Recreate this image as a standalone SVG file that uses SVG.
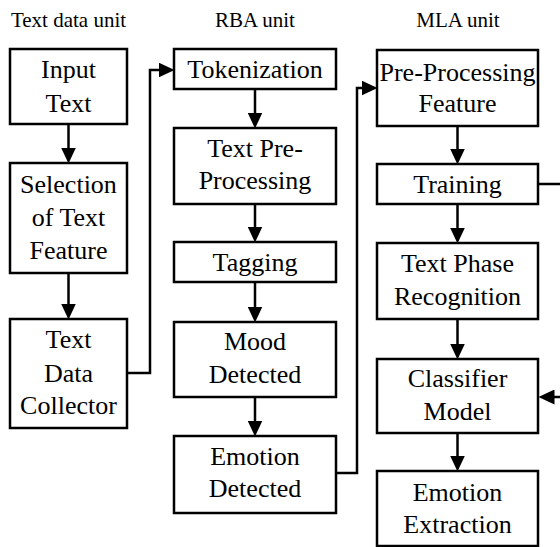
<svg xmlns="http://www.w3.org/2000/svg" width="560" height="547" viewBox="0 0 560 547">
<style>
.box{fill:#fff;stroke:#000;stroke-width:2.5}
.ttl{font-family:'Liberation Serif','Times New Roman',serif;font-size:21px;fill:#000;text-anchor:middle}
.lbl{font-family:'Liberation Serif','Times New Roman',serif;font-size:26px;fill:#000;text-anchor:middle}
.c{fill:none;stroke:#000;stroke-width:2.5;stroke-linejoin:miter}
</style>
<defs>
<marker id="ah" markerUnits="userSpaceOnUse" markerWidth="16" markerHeight="15" viewBox="0 0 16 15" refX="0.5" refY="7.5" orient="auto">
<path d="M0,0 L16,7.5 L0,15 z" fill="#000"/>
</marker>
</defs>
<rect width="560" height="547" fill="#fff"/>
<g id="input-text">
<rect class="box" x="10" y="49" width="117" height="75"/>
<text class="lbl" x="68.5" y="78">Input</text>
<text class="lbl" x="68.5" y="112">Text</text>
</g>
<g id="selection">
<rect class="box" x="10" y="163" width="117" height="110"/>
<text class="lbl" x="68.5" y="193">Selection</text>
<text class="lbl" x="68.5" y="226">of Text</text>
<text class="lbl" x="68.5" y="259">Feature</text>
</g>
<g id="collector">
<rect class="box" x="10" y="319" width="117" height="109"/>
<text class="lbl" x="68.5" y="348">Text</text>
<text class="lbl" x="68.5" y="382">Data</text>
<text class="lbl" x="68.5" y="414">Collector</text>
</g>
<g id="tokenization">
<rect class="box" x="174" y="49" width="162" height="40"/>
<text class="lbl" x="255" y="78">Tokenization</text>
</g>
<g id="text-preprocessing">
<rect class="box" x="174" y="128" width="162" height="76"/>
<text class="lbl" x="255" y="157">Text Pre-</text>
<text class="lbl" x="255" y="189">Processing</text>
</g>
<g id="tagging">
<rect class="box" x="174" y="242" width="162" height="40"/>
<text class="lbl" x="255" y="271">Tagging</text>
</g>
<g id="mood">
<rect class="box" x="174" y="322" width="162" height="75"/>
<text class="lbl" x="255" y="350">Mood</text>
<text class="lbl" x="255" y="383">Detected</text>
</g>
<g id="emotion-detected">
<rect class="box" x="174" y="436" width="162" height="77"/>
<text class="lbl" x="255" y="465">Emotion</text>
<text class="lbl" x="255" y="497">Detected</text>
</g>
<g id="preprocessing-feature">
<rect class="box" x="377" y="50" width="161" height="76"/>
<text class="lbl" x="457.5" y="81">Pre-Processing</text>
<text class="lbl" x="457.5" y="112">Feature</text>
</g>
<g id="training">
<rect class="box" x="377" y="164" width="161" height="40"/>
<text class="lbl" x="457.5" y="193">Training</text>
</g>
<g id="text-phase">
<rect class="box" x="377" y="243" width="161" height="76"/>
<text class="lbl" x="457.5" y="272">Text Phase</text>
<text class="lbl" x="457.5" y="305">Recognition</text>
</g>
<g id="classifier">
<rect class="box" x="377" y="359" width="161" height="74"/>
<text class="lbl" x="457.5" y="387">Classifier</text>
<text class="lbl" x="457.5" y="420">Model</text>
</g>
<g id="emotion-extraction">
<rect class="box" x="377" y="471" width="161" height="75"/>
<text class="lbl" x="457.5" y="501">Emotion</text>
<text class="lbl" x="457.5" y="533">Extraction</text>
</g>
<g id="connectors">
<path class="c" d="M68.5,124 V148" marker-end="url(#ah)"/>
<path class="c" d="M68.5,273 V304" marker-end="url(#ah)"/>
<path class="c" d="M127,373 H150 V70 H159" marker-end="url(#ah)"/>
<path class="c" d="M255,89 V113" marker-end="url(#ah)"/>
<path class="c" d="M255,204 V227" marker-end="url(#ah)"/>
<path class="c" d="M255,282 V307" marker-end="url(#ah)"/>
<path class="c" d="M255,397 V421" marker-end="url(#ah)"/>
<path class="c" d="M336,473 H357 V88 H362" marker-end="url(#ah)"/>
<path class="c" d="M457.5,126 V149" marker-end="url(#ah)"/>
<path class="c" d="M457.5,204 V228" marker-end="url(#ah)"/>
<path class="c" d="M457.5,319 V344" marker-end="url(#ah)"/>
<path class="c" d="M457.5,433 V456" marker-end="url(#ah)"/>
<path class="c" d="M538,184 H564 V397 H554" marker-end="url(#ah)"/>
</g>
<g id="titles">
<text class="ttl" x="68.5" y="27">Text data unit</text>
<text class="ttl" x="255" y="27">RBA unit</text>
<text class="ttl" x="458" y="27">MLA unit</text>
</g>
</svg>
